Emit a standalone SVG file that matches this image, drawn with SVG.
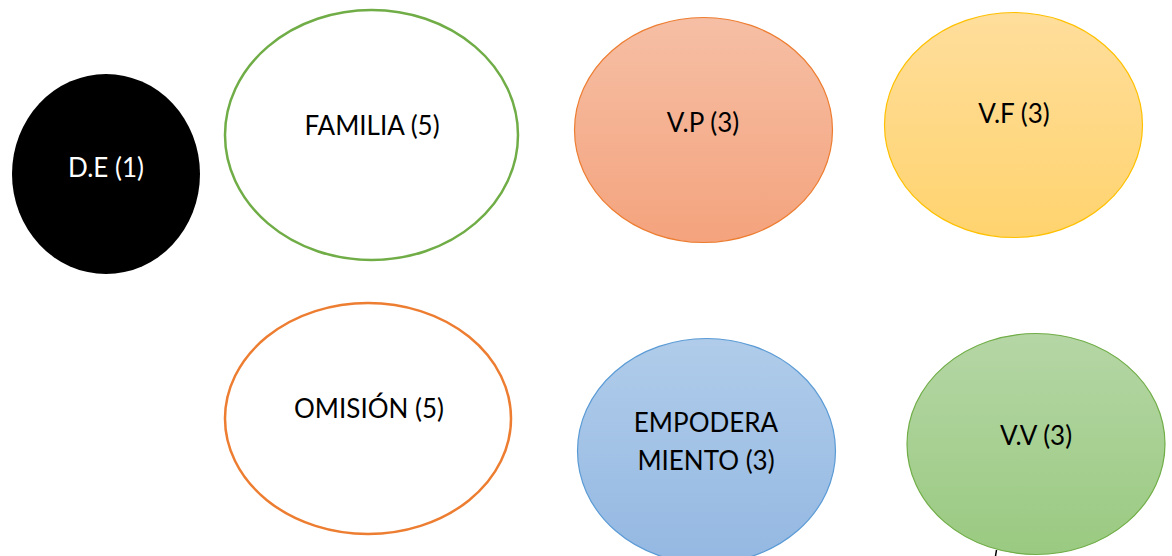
<svg xmlns="http://www.w3.org/2000/svg" width="1172" height="556" viewBox="0 0 1172 556">
<defs>
<linearGradient id="gOrange" x1="0" y1="0" x2="0" y2="1"><stop offset="0" stop-color="#F6BFA5"/><stop offset="1" stop-color="#F4A37D"/></linearGradient>
<linearGradient id="gYellow" x1="0" y1="0" x2="0" y2="1"><stop offset="0" stop-color="#FFDE9C"/><stop offset="1" stop-color="#FFD36E"/></linearGradient>
<linearGradient id="gBlue" x1="0" y1="0" x2="0" y2="1"><stop offset="0" stop-color="#B0CCEA"/><stop offset="1" stop-color="#94B8E2"/></linearGradient>
<linearGradient id="gGreen" x1="0" y1="0" x2="0" y2="1"><stop offset="0" stop-color="#B5D6A5"/><stop offset="1" stop-color="#9ACA81"/></linearGradient>
<style>
text{font-family:Lato,"Open Sans","Liberation Sans",sans-serif;font-size:26px;fill:#000;text-anchor:middle}
.w{fill:#fff}
</style>
</defs>
<rect width="1172" height="556" fill="#fff"/>
<g id="node-de"><ellipse cx="106" cy="174" rx="94" ry="100" fill="#000"/><text class="w" x="106" y="177">D.E (1)</text></g>
<g id="node-familia"><ellipse cx="371.5" cy="135" rx="146.5" ry="125" fill="#fff" stroke="#70AD47" stroke-width="2.5"/><text x="372" y="135">FAMILIA (5)</text></g>
<g id="node-vp"><ellipse cx="703.5" cy="130" rx="129" ry="112.5" fill="url(#gOrange)" stroke="#ED7D31" stroke-width="1.2"/><text x="703" y="132">V.P (3)</text></g>
<g id="node-vf"><ellipse cx="1013.5" cy="125" rx="129" ry="112.5" fill="url(#gYellow)" stroke="#FFC000" stroke-width="1.2"/><text x="1014" y="123">V.F (3)</text></g>
<g id="node-omision"><ellipse cx="368" cy="418.5" rx="143" ry="115.5" fill="#fff" stroke="#ED7D31" stroke-width="2.5"/><text x="369" y="418">OMISIÓN (5)</text></g>
<g id="node-empoderamiento"><ellipse cx="706.5" cy="451" rx="129" ry="112.5" fill="url(#gBlue)" stroke="#5B9BD5" stroke-width="1.2"/><text x="706" y="432">EMPODERA</text><text x="706" y="470">MIENTO (3)</text></g>
<g id="node-vv"><ellipse cx="1036" cy="444" rx="129" ry="110.5" fill="url(#gGreen)" stroke="#70AD47" stroke-width="1.2"/><text x="1036" y="445">V.V (3)</text></g>
<g id="connectors"><path d="M996.5 550 L995.5 556" stroke="#000" stroke-width="1.5" fill="none"/></g>
</svg>
